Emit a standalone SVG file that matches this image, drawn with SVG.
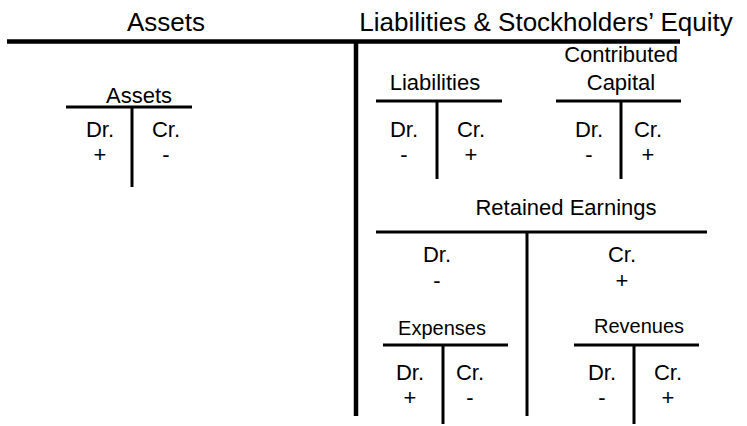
<svg xmlns="http://www.w3.org/2000/svg" width="747" height="426" viewBox="0 0 747 426">
<style>
  text { font-family: "Liberation Sans", Arial, sans-serif; fill: #000; text-anchor: middle; }
  .title { font-size: 26px; }
  .lbl { font-size: 22px; }
  .sm { font-size: 20px; }
  .t { stroke: #000; stroke-width: 3; fill: none; }
  .main { stroke: #000; stroke-width: 4.5; fill: none; }
</style>
<rect width="747" height="426" fill="#fff"/>
<g id="headers">
  <text class="title" x="166" y="31">Assets</text>
  <text class="title" x="546" y="31">Liabilities &amp; Stockholders’ Equity</text>
</g>
<g id="connectors">
  <line class="main" x1="7" y1="41.5" x2="680" y2="41.5"/>
  <line class="main" x1="356" y1="41" x2="356" y2="416"/>
</g>
<g id="assets">
  <text class="lbl" x="139" y="103">Assets</text>
  <line class="t" x1="66" y1="107" x2="192" y2="107"/>
  <line class="t" x1="132" y1="107" x2="132" y2="187"/>
  <text class="lbl" x="100" y="137">Dr.</text>
  <text class="lbl" x="166" y="137">Cr.</text>
  <text class="lbl" x="100" y="162">+</text>
  <text class="lbl" x="166" y="162">-</text>
</g>
<g id="liabilities">
  <text class="lbl" x="435" y="90">Liabilities</text>
  <line class="t" x1="376" y1="101" x2="502" y2="101"/>
  <line class="t" x1="437" y1="101" x2="437" y2="179"/>
  <text class="lbl" x="404" y="137">Dr.</text>
  <text class="lbl" x="471" y="137">Cr.</text>
  <text class="lbl" x="404" y="162">-</text>
  <text class="lbl" x="471" y="162">+</text>
</g>
<g id="contributed-capital">
  <text class="lbl" x="621" y="62">Contributed</text>
  <text class="lbl" x="621" y="90">Capital</text>
  <line class="t" x1="556" y1="101" x2="681" y2="101"/>
  <line class="t" x1="621" y1="101" x2="621" y2="179"/>
  <text class="lbl" x="589" y="137">Dr.</text>
  <text class="lbl" x="648" y="137">Cr.</text>
  <text class="lbl" x="589" y="162">-</text>
  <text class="lbl" x="648" y="162">+</text>
</g>
<g id="retained-earnings">
  <text class="lbl" x="566" y="215">Retained Earnings</text>
  <line class="t" x1="376" y1="232" x2="707" y2="232"/>
  <line class="t" x1="527" y1="232" x2="527" y2="416"/>
  <text class="lbl" x="437" y="262">Dr.</text>
  <text class="lbl" x="622" y="262">Cr.</text>
  <text class="lbl" x="437" y="288">-</text>
  <text class="lbl" x="622" y="288">+</text>
</g>
<g id="expenses">
  <text class="sm" x="442" y="335">Expenses</text>
  <line class="t" x1="383" y1="345" x2="508" y2="345"/>
  <line class="t" x1="443" y1="345" x2="443" y2="424"/>
  <text class="lbl" x="410" y="380">Dr.</text>
  <text class="lbl" x="470" y="380">Cr.</text>
  <text class="lbl" x="410" y="405">+</text>
  <text class="lbl" x="470" y="405">-</text>
</g>
<g id="revenues">
  <text class="sm" x="639" y="333">Revenues</text>
  <line class="t" x1="574" y1="345" x2="699" y2="345"/>
  <line class="t" x1="634" y1="345" x2="634" y2="424"/>
  <text class="lbl" x="602" y="380">Dr.</text>
  <text class="lbl" x="668" y="380">Cr.</text>
  <text class="lbl" x="602" y="405">-</text>
  <text class="lbl" x="668" y="405">+</text>
</g>
</svg>
